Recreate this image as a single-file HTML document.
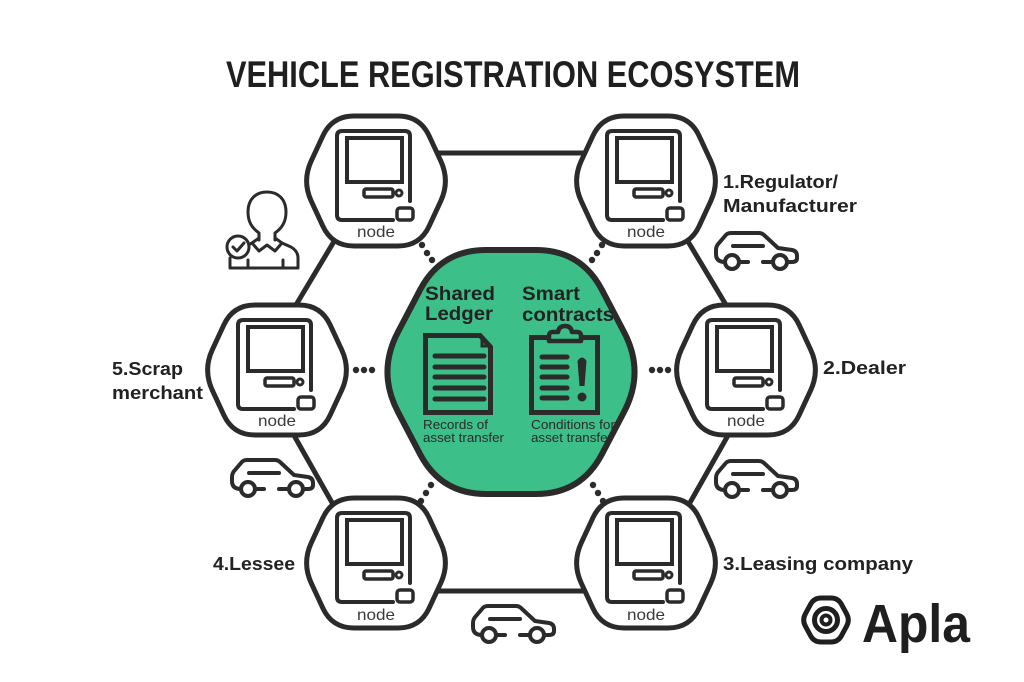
<!DOCTYPE html>
<html>
<head>
<meta charset="utf-8">
<style>
html,body{margin:0;padding:0;background:#fff;}
svg{display:block;}
text{font-family:"Liberation Sans",Arial,sans-serif;}
</style>
</head>
<body>
<svg width="1024" height="682" viewBox="0 0 1024 682" xmlns="http://www.w3.org/2000/svg">
<defs>
  <path id="hx" d="M -22,-65 L 22,-65 Q 44,-65 53.2,-45 L 64.8,-20 Q 74,0 64.8,20 L 53.2,45 Q 44,65 22,65 L -22,65 Q -44,65 -53.2,45 L -64.8,20 Q -74,0 -64.8,-20 L -53.2,-45 Q -44,-65 -22,-65 Z"/>
  <g id="comp" fill="none" stroke="#2b2b2b" stroke-linecap="round" stroke-linejoin="round">
    <path d="M 17,39 L -34,39 Q -39,39 -39,34 L -39,-45 Q -39,-50 -34,-50 L 29,-50 Q 34,-50 34,-45 L 34,20" stroke-width="4"/>
    <rect x="-29" y="-43" width="55" height="44" stroke-width="4" stroke-linejoin="miter"/>
    <rect x="-12" y="8" width="29" height="8" rx="2" stroke-width="3.5"/>
    <circle cx="23" cy="12" r="3" stroke-width="3"/>
    <rect x="21" y="27" width="16" height="12" rx="3" stroke-width="3.5"/>
  </g>
  <g id="car" fill="none" stroke="#2b2b2b" stroke-width="4" stroke-linecap="round" stroke-linejoin="round">
    <path d="M 10,29 Q 1,29 1,21 L 1,17 Q 1,13 4,10 L 10,3 Q 12,0 16,0 L 44,0 Q 47,0 49,2 L 63,15 L 77,17 Q 82,18 82,23 L 82,25 Q 82,29 77,29 L 72,29"/>
    <circle cx="17" cy="29" r="7"/>
    <circle cx="65" cy="29" r="7"/>
    <line x1="24" y1="29" x2="33" y2="29"/>
    <line x1="48" y1="29" x2="58" y2="29"/>
    <line x1="18" y1="13" x2="48" y2="13"/>
  </g>
</defs>

<rect width="1024" height="682" fill="#fff"/>

<!-- Title -->
<text x="226" y="87" font-weight="bold" font-size="37" textLength="574" lengthAdjust="spacingAndGlyphs" fill="#1f1f1f">VEHICLE REGISTRATION ECOSYSTEM</text>

<!-- Frame -->
<polygon points="387,153 635,153 765,370 640,591 382,591 257,370" fill="none" stroke="#2b2b2b" stroke-width="5" stroke-linejoin="round"/>

<!-- Nodes -->
<g fill="#fff" stroke="#2b2b2b" stroke-width="5">
  <use href="#hx" x="376" y="181"/>
  <use href="#hx" x="646" y="181"/>
  <use href="#hx" x="277" y="370"/>
  <use href="#hx" x="746" y="370"/>
  <use href="#hx" x="376" y="563"/>
  <use href="#hx" x="646" y="563"/>
</g>
<use href="#comp" x="376" y="181"/>
<use href="#comp" x="646" y="181"/>
<use href="#comp" x="277" y="370"/>
<use href="#comp" x="746" y="370"/>
<use href="#comp" x="376" y="563"/>
<use href="#comp" x="646" y="563"/>
<g font-size="16" fill="#3a3a3a">
  <text x="357" y="237" textLength="38" lengthAdjust="spacingAndGlyphs">node</text>
  <text x="627" y="237" textLength="38" lengthAdjust="spacingAndGlyphs">node</text>
  <text x="258" y="426" textLength="38" lengthAdjust="spacingAndGlyphs">node</text>
  <text x="727" y="426" textLength="38" lengthAdjust="spacingAndGlyphs">node</text>
  <text x="357" y="620" textLength="38" lengthAdjust="spacingAndGlyphs">node</text>
  <text x="627" y="620" textLength="38" lengthAdjust="spacingAndGlyphs">node</text>
</g>

<!-- Dotted connectors -->
<g fill="#2b2b2b">
  <circle cx="356" cy="370" r="3.2"/><circle cx="364" cy="370" r="3.2"/><circle cx="372" cy="370" r="3.2"/>
  <circle cx="652" cy="370" r="3.2"/><circle cx="660" cy="370" r="3.2"/><circle cx="668" cy="370" r="3.2"/>
  <circle cx="422" cy="245" r="3.2"/><circle cx="427" cy="253" r="3.2"/><circle cx="432" cy="260" r="3.2"/>
  <circle cx="602" cy="245" r="3.2"/><circle cx="597" cy="253" r="3.2"/><circle cx="592" cy="260" r="3.2"/>
  <circle cx="431" cy="485" r="3.2"/><circle cx="426" cy="493" r="3.2"/><circle cx="421" cy="501" r="3.2"/>
  <circle cx="593" cy="485" r="3.2"/><circle cx="598" cy="493" r="3.2"/><circle cx="603" cy="501" r="3.2"/>
</g>

<!-- Center green hexagon -->
<path transform="translate(511,372)" d="M -25,-122 L 25,-122 Q 70,-122 90.9,-82.2 L 113.1,-39.8 Q 134,0 113.1,39.8 L 90.9,82.2 Q 70,122 25,122 L -25,122 Q -70,122 -90.9,82.2 L -113.1,39.8 Q -134,0 -113.1,-39.8 L -90.9,-82.2 Q -70,-122 -25,-122 Z" fill="#3dbf8a" stroke="#2b2b2b" stroke-width="6"/>

<g fill="#222" font-weight="bold" font-size="19">
  <text x="425" y="300" textLength="70" lengthAdjust="spacingAndGlyphs">Shared</text>
  <text x="425" y="320" textLength="68" lengthAdjust="spacingAndGlyphs">Ledger</text>
  <text x="522" y="300" textLength="58" lengthAdjust="spacingAndGlyphs">Smart</text>
  <text x="522" y="321" textLength="92" lengthAdjust="spacingAndGlyphs">contracts</text>
</g>

<!-- Document icon -->
<g fill="none" stroke="#2b2b2b" stroke-linecap="round">
  <path d="M 425.5,335.5 L 480,335.5 L 490.5,347 L 490.5,412.5 L 425.5,412.5 Z" stroke-width="5" stroke-linejoin="miter"/>
  <polyline points="482,338 482,346 489,346" stroke-width="3"/>
  <g stroke-width="5">
    <line x1="435" y1="356" x2="484" y2="356"/>
    <line x1="435" y1="367" x2="484" y2="367"/>
    <line x1="435" y1="377" x2="484" y2="377"/>
    <line x1="435" y1="388" x2="484" y2="388"/>
    <line x1="435" y1="399" x2="484" y2="399"/>
  </g>
</g>

<!-- Clipboard icon -->
<g fill="none" stroke="#2b2b2b" stroke-linecap="round">
  <rect x="531.5" y="337.5" width="66" height="75" stroke-width="5"/>
  <path d="M 549,341 L 549,336 Q 549,332 553,332 L 558,332 Q 559,326 565,326 Q 571,326 572,332 L 577,332 Q 581,332 581,336 L 581,341 Z" fill="#3dbf8a" stroke-width="4.5" stroke-linejoin="round"/>
  <g stroke-width="5">
    <line x1="542" y1="357" x2="567" y2="357"/>
    <line x1="542" y1="367" x2="567" y2="367"/>
    <line x1="542" y1="377" x2="567" y2="377"/>
    <line x1="542" y1="388" x2="567" y2="388"/>
    <line x1="542" y1="398" x2="567" y2="398"/>
  </g>
</g>
<path d="M 577.5,361 Q 582,354 586.5,361 L 584.5,386 L 579.5,386 Z" fill="#2b2b2b"/>
<circle cx="582" cy="397" r="4.5" fill="#2b2b2b"/>

<g fill="#2a2a2a" font-size="13">
  <text x="423" y="429" textLength="65" lengthAdjust="spacingAndGlyphs">Records of</text>
  <text x="423" y="442" textLength="81" lengthAdjust="spacingAndGlyphs">asset transfer</text>
  <text x="531" y="429" textLength="84" lengthAdjust="spacingAndGlyphs">Conditions for</text>
  <text x="531" y="442" textLength="81" lengthAdjust="spacingAndGlyphs">asset transfer</text>
</g>

<!-- Labels -->
<g fill="#222" font-weight="bold" font-size="18.5">
  <text x="723" y="188" textLength="115" lengthAdjust="spacingAndGlyphs">1.Regulator/</text>
  <text x="723" y="212" textLength="134" lengthAdjust="spacingAndGlyphs">Manufacturer</text>
  <text x="823" y="374" textLength="83" lengthAdjust="spacingAndGlyphs">2.Dealer</text>
  <text x="723" y="570" textLength="190" lengthAdjust="spacingAndGlyphs">3.Leasing company</text>
  <text x="213" y="570" textLength="82" lengthAdjust="spacingAndGlyphs">4.Lessee</text>
  <text x="112" y="375" textLength="71" lengthAdjust="spacingAndGlyphs">5.Scrap</text>
  <text x="112" y="399" textLength="91" lengthAdjust="spacingAndGlyphs">merchant</text>
</g>

<!-- Cars -->
<use href="#car" x="715" y="233"/>
<use href="#car" x="715" y="461"/>
<use href="#car" x="231" y="460"/>
<use href="#car" x="472" y="606"/>

<!-- Person icon -->
<g fill="none" stroke="#2b2b2b" stroke-width="3" stroke-linecap="round" stroke-linejoin="round">
  <path d="M 259,240 L 259,233 C 252,228 248,222 248,212 C 248,199 256,192 267,192 C 278,192 286,199 286,212 C 286,222 282,228 275,233 L 275,240"/>
  <path d="M 259,238 L 252,243 L 259,251 L 267,245 L 275,251 L 282,243 L 275,238"/>
  <path d="M 282,243 L 291,247 Q 298,251 298,258 L 298,268 L 230,268 L 230,258"/>
  <path d="M 252,243 L 246,246"/>
  <line x1="248" y1="260" x2="248" y2="268"/>
  <line x1="283" y1="260" x2="283" y2="268"/>
  <circle cx="238" cy="247" r="11" fill="#fff"/>
  <path d="M 233,247 L 237,251 L 244,243"/>
</g>

<!-- Apla logo -->
<g transform="translate(826,620)" fill="none" stroke="#1f1f1f">
  <path d="M -5,-22 L 5,-22 Q 12,-22 15.4,-15.8 L 20.6,-6.2 Q 24,0 20.6,6.2 L 15.4,15.8 Q 12,22 5,22 L -5,22 Q -12,22 -15.4,15.8 L -20.6,6.2 Q -24,0 -20.6,-6.2 L -15.4,-15.8 Q -12,-22 -5,-22 Z" stroke-width="5"/>
  <circle r="11.5" stroke-width="5"/>
  <circle r="4.5" stroke-width="4"/>
</g>
<text x="862" y="642" font-weight="bold" font-size="54" textLength="108" lengthAdjust="spacingAndGlyphs" fill="#1f1f1f">Apla</text>
</svg>
</body>
</html>
